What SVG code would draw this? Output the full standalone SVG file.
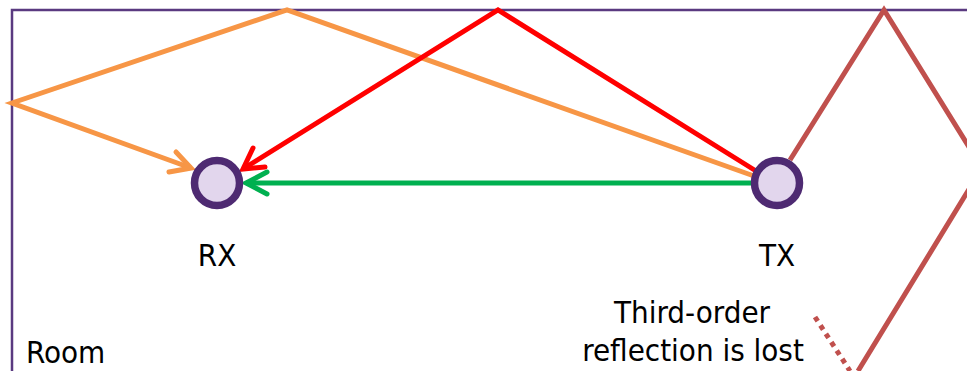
<svg xmlns="http://www.w3.org/2000/svg" width="967" height="371" viewBox="0 0 967 371">
<style>
.wall{fill:none;stroke:#5a3a80;stroke-width:2.5}
.ray{fill:none;stroke-width:5;stroke-linejoin:miter;stroke-linecap:butt}
.head{fill:none;stroke-width:5;stroke-linecap:round;stroke-linejoin:miter}
.node{fill:#e2d6ed;stroke:#4e2a72;stroke-width:7.5}
.lbl{font-family:"DejaVu Sans Condensed","DejaVu Sans",sans-serif;font-stretch:condensed;font-size:31px;fill:#000}
</style>
<rect width="967" height="371" fill="#fff"/>
<path class="wall" d="M12,371 V10 H967"/>
<g id="connectors">
  <g id="orange-path">
    <polyline class="ray" stroke="#f79646" points="754,176 287,10 12,103 191,168"/>
    <polyline class="head" stroke="#f79646" points="176,152 191,168 169,172"/>
  </g>
  <g id="red-path">
    <polyline class="ray" stroke="#ff0000" points="756,171 498,10 243,169"/>
    <polyline class="head" stroke="#ff0000" points="253,148 243,169 265,167"/>
  </g>
  <g id="green-path">
    <line class="ray" stroke="#00b050" x1="752" y1="183" x2="246" y2="183"/>
    <polyline class="head" stroke="#00b050" points="267,172 246,183 267,194"/>
  </g>
  <g id="brown-path">
    <polyline class="ray" stroke="#c0504d" points="790,160 884,10 982,168 858,371"/>
    <line stroke="#c0504d" stroke-width="5" stroke-dasharray="5,5" x1="815" y1="317" x2="850" y2="371"/>
  </g>
</g>
<g id="rx">
  <circle class="node" cx="217" cy="183" r="22.5"/>
  <text class="lbl" x="217" y="266" text-anchor="middle">RX</text>
</g>
<g id="tx">
  <circle class="node" cx="777" cy="183" r="22.5"/>
  <text class="lbl" x="777" y="266" text-anchor="middle">TX</text>
</g>
<g id="note">
  <text class="lbl" x="692" y="323" text-anchor="middle">Third-order</text>
  <text class="lbl" x="693" y="361" text-anchor="middle">reflection is lost</text>
</g>
<text id="room" class="lbl" x="26" y="363">Room</text>
</svg>
